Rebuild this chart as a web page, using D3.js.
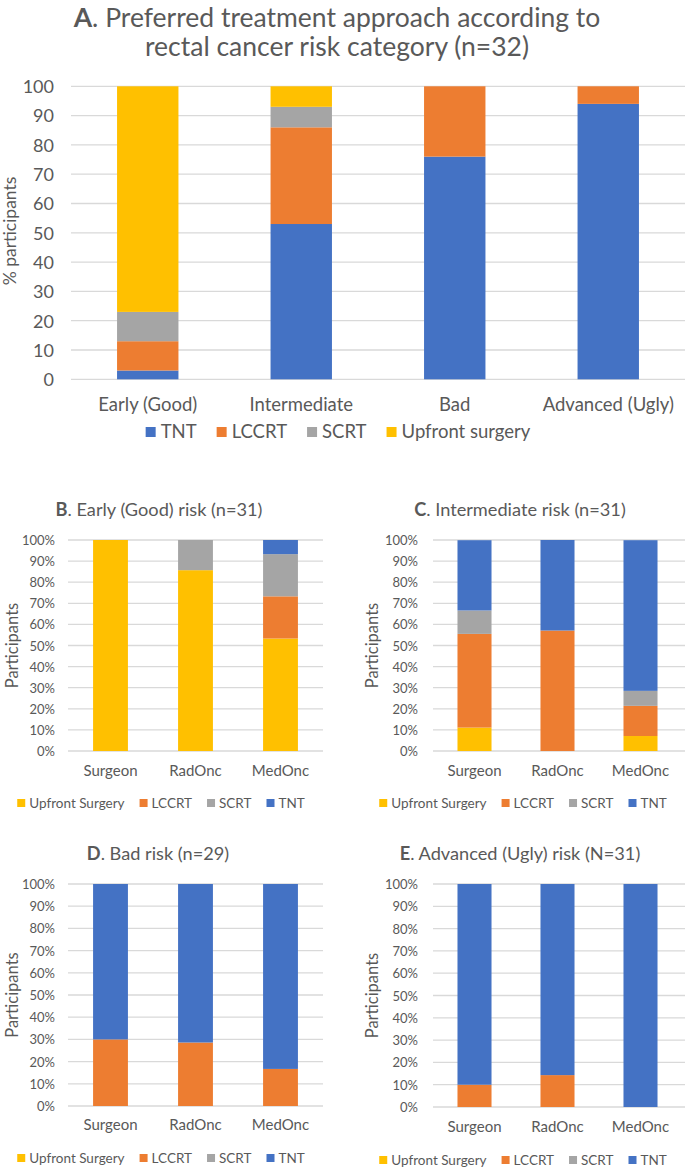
<!DOCTYPE html>
<html>
<head>
<meta charset="utf-8">
<script src="https://cdn.jsdelivr.net/npm/d3@7"></script>
<style>
  html, body { margin: 0; padding: 0; background: #fff; }
  svg { display: block; font-family: Lato, "Open Sans", sans-serif; }
</style>
</head>
<body>
<svg id="chart" width="685" height="1167"></svg>
<script>
// ---------- DATA ----------
// Panel A
const catsA = ["Early (Good)", "Intermediate", "Bad", "Advanced (Ugly)"];
const seriesA = ["TNT", "LCCRT", "SCRT", "Upfront surgery"];
const tntA = [3, 53, 76, 94];
const lccrtA = [10, 33, 24, 6];
const scrtA = [10, 7, 0, 0];
const upfrontA = [77, 7, 0, 0];
const ticksA = [0, 10, 20, 30, 40, 50, 60, 70, 80, 90, 100];

// Panels B-E
const specialties = ["Surgeon", "RadOnc", "MedOnc"];
const seriesSub = ["Upfront Surgery", "LCCRT", "SCRT", "TNT"];
const ticksSub = [0, 10, 20, 30, 40, 50, 60, 70, 80, 90, 100];

const upfrontB = [100, 85.7, 53.3];
const lccrtB = [0, 0, 20];
const scrtB = [0, 14.3, 20];
const tntB = [0, 0, 6.7];

const upfrontC = [11.1, 0, 7.1];
const lccrtC = [44.4, 57.1, 14.3];
const scrtC = [11.1, 0, 7.1];
const tntC = [33.3, 42.9, 71.4];

const upfrontD = [0, 0, 0];
const lccrtD = [30, 28.6, 16.7];
const scrtD = [0, 0, 0];
const tntD = [70, 71.4, 83.3];

const upfrontE = [0, 0, 0];
const lccrtE = [10, 14.3, 0];
const scrtE = [0, 0, 0];
const tntE = [90, 85.7, 100];

// ---------- STYLE ----------
const colors = {
  "TNT": "#4472C4",
  "LCCRT": "#ED7D31",
  "SCRT": "#A5A5A5",
  "Upfront surgery": "#FFC000",
  "Upfront Surgery": "#FFC000"
};
const textColor = "#595959";
const gridColor = "#D9D9D9";

const svg = d3.select("#chart");

function drawPanel(cfg) {
  const g = svg.append("g");
  const rows = cfg.cats.map((c, i) => {
    const r = { cat: c };
    cfg.keys.forEach(k => r[k] = cfg.values[k][i]);
    return r;
  });
  const stack = d3.stack().keys(cfg.stackKeys)(rows);

  const x = d3.scaleBand().domain(cfg.cats).range([cfg.x0, cfg.x1])
    .paddingInner(cfg.padIn).paddingOuter(cfg.padIn / 2);
  const y = d3.scaleLinear().domain([0, 100]).range([cfg.yBot, cfg.yTop]);

  // gridlines
  g.append("g").selectAll("line").data(cfg.ticks).join("line")
    .attr("x1", cfg.gridX0).attr("x2", cfg.gridX1)
    .attr("y1", d => y(d)).attr("y2", d => y(d))
    .attr("stroke", gridColor).attr("stroke-width", 1.3);

  // y axis labels via d3 axis
  const yAxis = d3.axisLeft(y).tickValues(cfg.ticks).tickFormat(cfg.fmt).tickSize(0).tickPadding(0);
  const ya = g.append("g").attr("transform", `translate(${cfg.tickRight},0)`).call(yAxis);
  ya.select(".domain").remove();
  ya.selectAll("text").attr("fill", textColor).style("font-size", cfg.tickFs + "px")
    .style("font-family", "Lato").attr("dy", "0.35em");

  // bars
  g.append("g").selectAll("g").data(stack).join("g")
    .attr("fill", d => colors[d.key])
    .selectAll("rect").data(d => d).join("rect")
    .attr("x", d => x(d.data.cat))
    .attr("width", x.bandwidth())
    .attr("y", d => y(d[1]))
    .attr("height", d => Math.max(0, y(d[0]) - y(d[1])));

  // x axis labels
  const xAxis = d3.axisBottom(x).tickSize(0).tickPadding(0);
  const xa = g.append("g").attr("transform", `translate(0,${cfg.labelY})`).call(xAxis);
  xa.select(".domain").remove();
  xa.selectAll("text").attr("fill", textColor).style("font-size", cfg.catFs + "px")
    .style("font-family", "Lato").attr("dy", "0.35em").attr("y", 0);

  // y title
  g.append("text")
    .attr("transform", `translate(${cfg.yTitleX},${cfg.yTitleY}) rotate(-90)`)
    .attr("text-anchor", "middle").attr("dy", "0.35em")
    .attr("fill", textColor).style("font-size", cfg.yTitleFs + "px")
    .text(cfg.yTitle);

  // title
  cfg.titleLines.forEach((ln, i) => {
    const t = g.append("text").attr("x", cfg.titleX).attr("y", cfg.titleY + i * cfg.titleLH)
      .attr("text-anchor", "middle").attr("fill", textColor)
      .style("font-size", cfg.titleFs + "px");
    if (ln.bold) t.append("tspan").attr("font-weight", "bold").text(ln.bold);
    t.append("tspan").text(ln.text);
  });

  // legend
  const lg = g.append("g");
  let cx = 0;
  cfg.legendKeys.forEach(k => {
    const it = lg.append("g");
    it.append("rect").attr("x", 0).attr("y", -cfg.sq / 2).attr("width", cfg.sq).attr("height", cfg.sq)
      .attr("fill", colors[k]);
    const tx = it.append("text").attr("x", cfg.sq + cfg.sqGap).attr("dy", "0.35em")
      .attr("fill", textColor).style("font-size", cfg.legFs + "px").text(k);
    const w = cfg.sq + cfg.sqGap + tx.node().getComputedTextLength();
    it.attr("transform", `translate(${cx},${cfg.legendY})`);
    cx += w + cfg.itemGap;
  });
  const total = cx - cfg.itemGap;
  lg.attr("transform", `translate(${cfg.legendCX - total / 2},0)`);
}

// Panel A
drawPanel({
  cats: catsA, keys: seriesA, stackKeys: seriesA,
  values: { "TNT": tntA, "LCCRT": lccrtA, "SCRT": scrtA, "Upfront surgery": upfrontA },
  x0: 71, x1: 685, padIn: 0.6, yTop: 86.3, yBot: 379.3,
  gridX0: 71, gridX1: 685, ticks: ticksA, fmt: d => d, tickRight: 54, tickFs: 18,
  labelY: 405, catFs: 18.5,
  yTitle: "% participants", yTitleX: 10, yTitleY: 231, yTitleFs: 17.5,
  titleLines: [{ bold: "A", text: ". Preferred treatment approach according to" },
               { text: "rectal cancer risk category (n=32)" }],
  titleX: 337, titleY: 26.5, titleLH: 29.5, titleFs: 26.5,
  legendKeys: seriesA, legendY: 432, legendCX: 338, sq: 10, sqGap: 5, itemGap: 20, legFs: 18.5
});

function subPanel(opts) {
  drawPanel({
    cats: specialties, keys: seriesSub, stackKeys: seriesSub,
    values: opts.values,
    x0: opts.x0, x1: opts.x1, padIn: 0.59, yTop: opts.yTop, yBot: opts.yBot,
    gridX0: opts.x0, gridX1: opts.gx1, ticks: ticksSub, fmt: d => d + "%",
    tickRight: opts.tickRight, tickFs: 13,
    labelY: opts.labelY, catFs: 15,
    yTitle: "Participants", yTitleX: opts.yTitleX, yTitleY: (opts.yTop + opts.yBot) / 2, yTitleFs: 16.5,
    titleLines: [{ bold: opts.tb, text: opts.tt }],
    titleX: opts.titleX, titleY: opts.titleY, titleLH: 0, titleFs: 18.2,
    legendKeys: seriesSub, legendY: opts.legendY, legendCX: opts.legendCX,
    sq: 8, sqGap: 4, itemGap: 15, legFs: 13.5
  });
}

subPanel({
  values: { "Upfront Surgery": upfrontB, "LCCRT": lccrtB, "SCRT": scrtB, "TNT": tntB },
  x0: 68, x1: 323, gx1: 323, yTop: 540, yBot: 751, tickRight: 55, labelY: 771, yTitleX: 12,
  tb: "B", tt: ". Early (Good) risk (n=31)", titleX: 159, titleY: 516,
  legendY: 803, legendCX: 161
});
subPanel({
  values: { "Upfront Surgery": upfrontC, "LCCRT": lccrtC, "SCRT": scrtC, "TNT": tntC },
  x0: 433, x1: 682, gx1: 685, yTop: 540, yBot: 751, tickRight: 418, labelY: 771, yTitleX: 372,
  tb: "C", tt: ". Intermediate risk (n=31)", titleX: 520, titleY: 516,
  legendY: 803, legendCX: 523
});
subPanel({
  values: { "Upfront Surgery": upfrontD, "LCCRT": lccrtD, "SCRT": scrtD, "TNT": tntD },
  x0: 68, x1: 323, gx1: 323, yTop: 884, yBot: 1106, tickRight: 55, labelY: 1125, yTitleX: 12,
  tb: "D", tt: ". Bad risk (n=29)", titleX: 158, titleY: 860,
  legendY: 1158, legendCX: 161
});
subPanel({
  values: { "Upfront Surgery": upfrontE, "LCCRT": lccrtE, "SCRT": scrtE, "TNT": tntE },
  x0: 433, x1: 682, gx1: 685, yTop: 884, yBot: 1107, tickRight: 418, labelY: 1127, yTitleX: 372,
  tb: "E", tt: ". Advanced (Ugly) risk (N=31)", titleX: 520, titleY: 860,
  legendY: 1160, legendCX: 523
});
</script>
</body>
</html>
